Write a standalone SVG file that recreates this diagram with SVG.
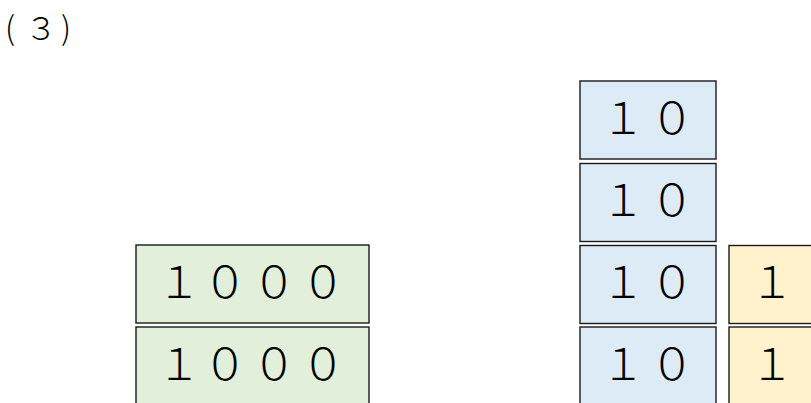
<svg xmlns="http://www.w3.org/2000/svg" width="811" height="403" viewBox="0 0 811 403">
<style>
.b{stroke:#1a1a1a;stroke-width:1.4}
.g{fill:#E2EFDA}
.u{fill:#DDEBF7}
.y{fill:#FFF2CC}
.t{font-family:"Noto Sans CJK JP","Noto Sans",sans-serif;font-size:44px;font-weight:300;fill:#000;text-anchor:middle}
.h{font-family:"Noto Sans CJK JP","Noto Sans",sans-serif;font-size:32px;font-weight:300;fill:#000}
</style>
<rect width="811" height="403" fill="#fff"/>
<text class="h" x="5 25 61" y="40">(３)</text>
<g id="g1"><rect class="b g" x="136" y="245" width="233" height="78"/><text class="t" x="179 225 274 323" y="298">１０００</text></g>
<g id="g2"><rect class="b g" x="136" y="327" width="233" height="78"/><text class="t" x="179 225 274 323" y="380">１０００</text></g>
<g id="u1"><rect class="b u" x="580" y="81" width="136" height="78"/><text class="t" x="623 672" y="134">１０</text></g>
<g id="u2"><rect class="b u" x="580" y="163.5" width="136" height="78"/><text class="t" x="623 672" y="216">１０</text></g>
<g id="u3"><rect class="b u" x="580" y="245.5" width="136" height="78"/><text class="t" x="623 672" y="298">１０</text></g>
<g id="u4"><rect class="b u" x="580" y="327" width="136" height="78"/><text class="t" x="623 672" y="380">１０</text></g>
<g id="y1"><rect class="b y" x="729" y="245.5" width="90" height="78"/><text class="t" x="772" y="298">１</text></g>
<g id="y2"><rect class="b y" x="729" y="327" width="90" height="78"/><text class="t" x="772" y="380">１</text></g>
<g id="connectors"></g>
</svg>
